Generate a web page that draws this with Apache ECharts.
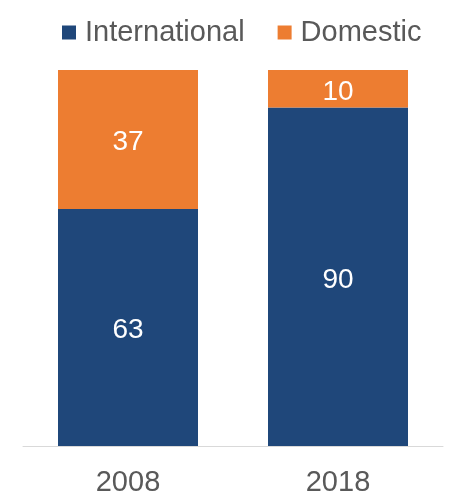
<!DOCTYPE html>
<html>
<head>
<meta charset="utf-8">
<script src="https://cdn.jsdelivr.net/npm/echarts@6/dist/echarts.min.js"></script>
<style>
  html, body { margin: 0; padding: 0; background: #fff; }
  #chart { width: 449px; height: 491px; }
</style>
</head>
<body>
<div id="chart"></div>
<script>
// Share of students by origin (percent)
const years = ['2008', '2018'];
const international = [63, 90];
const domestic = [37, 10];

const FONT = '"Liberation Sans", Arial, sans-serif';
const GREY = '#595959';
const SIZE = 29;

const chart = echarts.init(document.getElementById('chart'), null, { renderer: 'canvas' });

const labelStyle = {
  show: true,
  position: 'inside',
  color: '#ffffff',
  fontSize: 28,
  fontFamily: FONT,
  offset: [0, 3]
};

chart.setOption({
  animation: false,
  textStyle: { fontFamily: FONT },
  legend: {
    top: 13,
    left: 57,
    itemWidth: 14,
    itemHeight: 14,
    itemGap: 33,
    icon: 'rect',
    textStyle: {
      color: GREY,
      fontSize: SIZE,
      fontFamily: FONT,
      padding: [0, 0, 0, 4]
    },
    data: ['International', 'Domestic']
  },
  grid: {
    left: 23, right: 6, top: 70, bottom: 45,
    containLabel: false,
    outerBoundsMode: 'none'
  },
  xAxis: {
    type: 'category',
    data: years,
    axisLine: { show: true, lineStyle: { color: '#d9d9d9', width: 1 } },
    axisTick: { show: false },
    axisLabel: {
      color: GREY,
      fontSize: SIZE,
      fontFamily: FONT,
      margin: 22
    }
  },
  yAxis: {
    type: 'value',
    min: 0,
    max: 100,
    show: false,
    splitLine: { show: false }
  },
  series: [
    {
      name: 'International',
      type: 'bar',
      stack: 'total',
      barWidth: 140,
      data: international,
      itemStyle: { color: '#1F477A' },
      label: labelStyle
    },
    {
      name: 'Domestic',
      type: 'bar',
      stack: 'total',
      barWidth: 140,
      data: domestic,
      itemStyle: { color: '#ED7D31' },
      label: labelStyle
    }
  ]
});
</script>
</body>
</html>
